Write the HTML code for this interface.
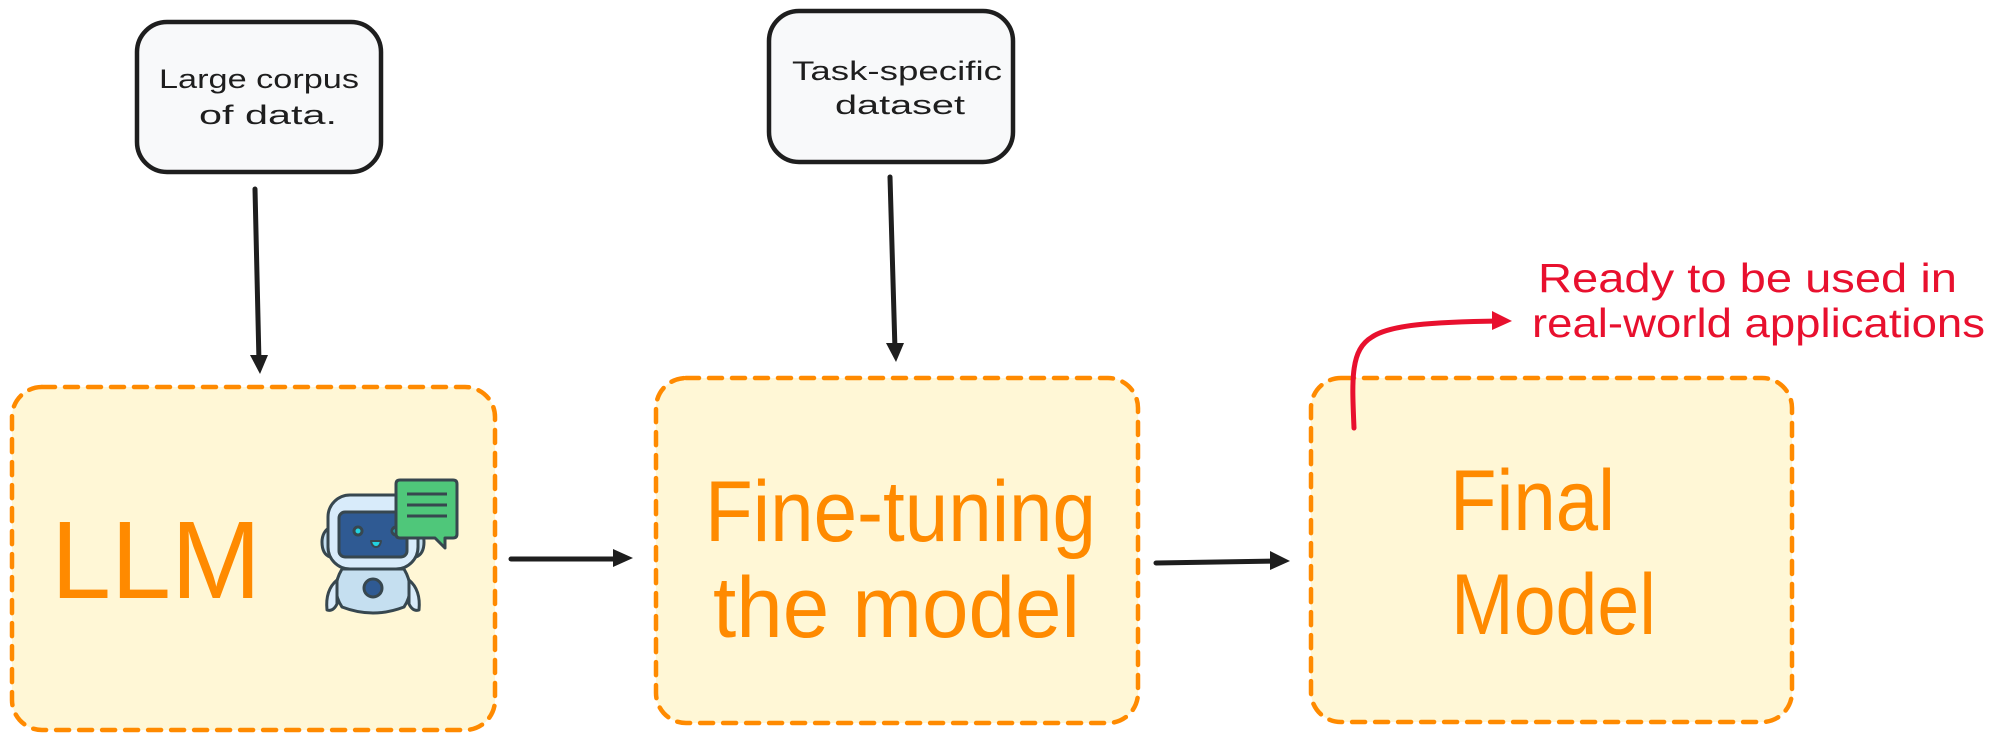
<!DOCTYPE html>
<html><head><meta charset="utf-8"><style>
html,body{margin:0;padding:0;background:#fff;}
svg{display:block;}
text{font-family:"Liberation Sans",sans-serif;}
</style></head><body>
<svg width="1999" height="742" viewBox="0 0 1999 742" xmlns="http://www.w3.org/2000/svg">
<defs>
<marker id="ah" markerWidth="10" markerHeight="10" refX="8" refY="5" orient="auto" markerUnits="userSpaceOnUse">
</marker>
</defs>
<!-- top boxes -->
<rect x="137" y="22" width="244" height="150" rx="30" fill="#f8f9fa" stroke="#1e1e1e" stroke-width="4.5"/>
<text x="259" y="88" font-size="27" text-anchor="middle" fill="#1e1e1e" textLength="200" lengthAdjust="spacingAndGlyphs">Large corpus</text>
<text x="268" y="124" font-size="27" text-anchor="middle" fill="#1e1e1e" textLength="138" lengthAdjust="spacingAndGlyphs">of data.</text>

<rect x="769" y="11" width="244" height="151" rx="30" fill="#f8f9fa" stroke="#1e1e1e" stroke-width="4.5"/>
<text x="897" y="80" font-size="27" text-anchor="middle" fill="#1e1e1e" textLength="210" lengthAdjust="spacingAndGlyphs">Task-specific</text>
<text x="900" y="114" font-size="27" text-anchor="middle" fill="#1e1e1e" textLength="130" lengthAdjust="spacingAndGlyphs">dataset</text>

<!-- vertical arrows -->
<line x1="255" y1="189" x2="259" y2="362" stroke="#1e1e1e" stroke-width="5" stroke-linecap="round"/>
<polygon points="250,355 268,355 260,374" fill="#1e1e1e"/>
<line x1="890" y1="177" x2="895" y2="350" stroke="#1e1e1e" stroke-width="5" stroke-linecap="round"/>
<polygon points="886,343 904,343 896,362" fill="#1e1e1e"/>

<!-- yellow boxes -->
<g fill="#fff7d6" stroke="#ff8a00" stroke-width="4.5" stroke-dasharray="13 10" stroke-linecap="round">
<rect x="12" y="387" width="483" height="343" rx="30"/>
<rect x="656" y="378" width="482" height="345" rx="30"/>
<rect x="1311" y="378" width="481" height="344" rx="30"/>
</g>

<text x="51" y="598" font-size="110" fill="#ff8a00" textLength="210" lengthAdjust="spacingAndGlyphs">LLM</text>
<text x="705" y="541" font-size="86" fill="#ff8a00" textLength="391" lengthAdjust="spacingAndGlyphs">Fine-tuning</text>
<text x="713" y="637" font-size="86" fill="#ff8a00" textLength="367" lengthAdjust="spacingAndGlyphs">the model</text>
<text x="1450" y="530" font-size="86" fill="#ff8a00" textLength="165" lengthAdjust="spacingAndGlyphs">Final</text>
<text x="1451" y="634" font-size="86" fill="#ff8a00" textLength="205" lengthAdjust="spacingAndGlyphs">Model</text>

<!-- robot -->
<g stroke="#37474f" stroke-width="3" stroke-linejoin="round">
<path d="M330 527 q-8 5 -8 15 q0 12 8 15 z" fill="#c5dff0"/>
<path d="M416 527 q8 5 8 15 q0 12 -8 15 z" fill="#c5dff0"/>
<rect x="328" y="495" width="90" height="74" rx="22" fill="#d8ebfa"/>
<rect x="339" y="512" width="68" height="45" rx="6" fill="#2f5a93"/>
<circle cx="358" cy="531" r="4" fill="#22d3e0"/>
<circle cx="396" cy="531" r="4" fill="#22d3e0"/>
<path d="M371 541 h10 q-1 6 -5 6 q-4 0 -5 -6z" fill="#22d3e0" stroke-width="2"/>
<path d="M342 569 h62 q12 20 0 38 q-31 12 -62 0 q-12 -18 0 -38z" fill="#c5dff0"/>
<path d="M337 580 q-12 10 -10 30 q6 2 10 -6z" fill="#d8ebfa"/>
<path d="M409 580 q12 10 10 30 q-6 2 -10 -6z" fill="#d8ebfa"/>
<circle cx="373" cy="588" r="9" fill="#2f5a93"/>
<path d="M400 480 h53 q4 0 4 4 v50 q0 4 -4 4 h-8 v10 l-10 -10 h-35 q-4 0 -4 -4 v-50 q0 -4 4 -4z" fill="#4fc77a"/>
<line x1="407" y1="494" x2="447" y2="494"/>
<line x1="407" y1="505" x2="447" y2="505"/>
<line x1="407" y1="516" x2="447" y2="516"/>
</g>

<!-- horizontal arrows -->
<line x1="511" y1="559" x2="620" y2="559" stroke="#1e1e1e" stroke-width="5" stroke-linecap="round"/>
<polygon points="613,549 633,558 613,567" fill="#1e1e1e"/>
<line x1="1156" y1="563" x2="1277" y2="561" stroke="#1e1e1e" stroke-width="5" stroke-linecap="round"/>
<polygon points="1270,551 1290,561 1270,570" fill="#1e1e1e"/>

<!-- red arrow -->
<path d="M1354 428 C1352 380 1350 350 1372 337 C1390 325 1430 322 1500 321" fill="none" stroke="#e8102e" stroke-width="5" stroke-linecap="round"/>
<polygon points="1492,311 1512,321 1492,330" fill="#e8102e"/>
<text x="1538" y="292" font-size="41" fill="#e8102e" textLength="419" lengthAdjust="spacingAndGlyphs">Ready to be used in</text>
<text x="1532" y="337" font-size="41" fill="#e8102e" textLength="453" lengthAdjust="spacingAndGlyphs">real-world applications</text>
</svg>
</body></html>
